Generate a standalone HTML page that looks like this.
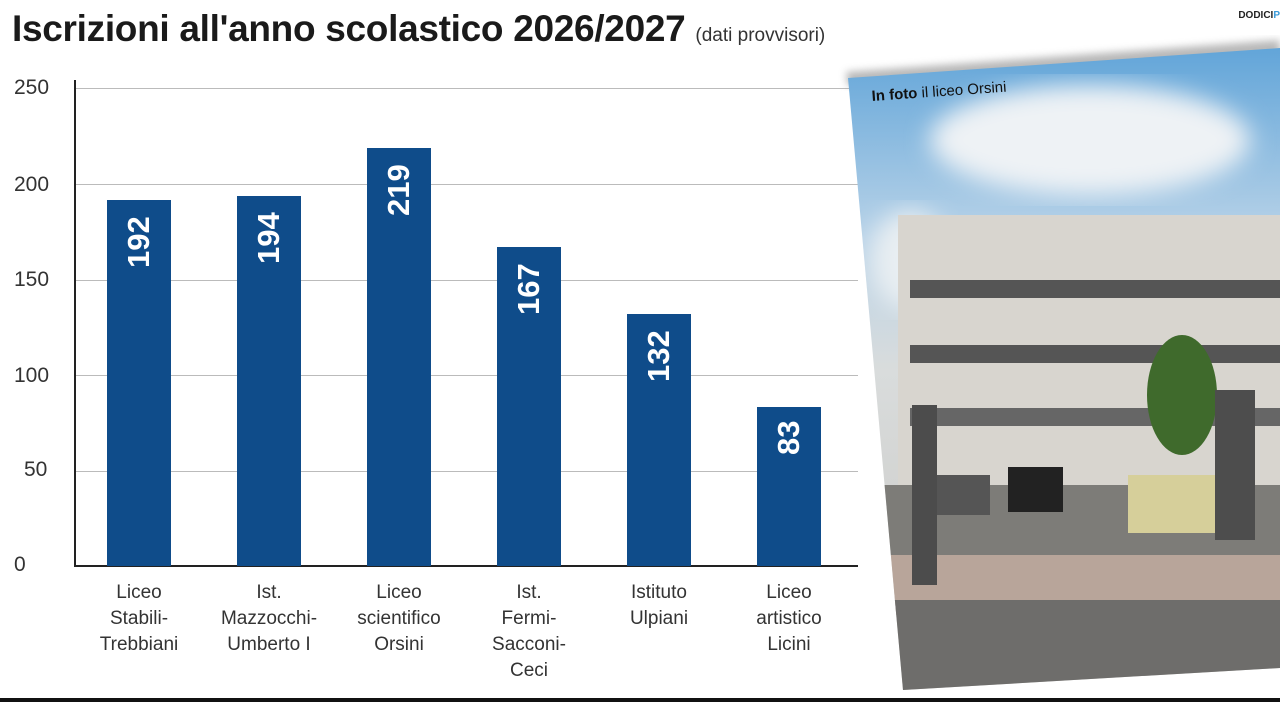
<!DOCTYPE html>
<html><head><meta charset="utf-8"><style>
html,body{margin:0;padding:0;background:#fff;}
body{width:1280px;height:702px;position:relative;overflow:hidden;font-family:"Liberation Sans",sans-serif;}
.t{position:absolute;left:12px;top:8px;font-size:37px;font-weight:bold;color:#1a1a1a;letter-spacing:-0.3px;white-space:nowrap;}
.t span{font-size:19px;font-weight:normal;letter-spacing:0;color:#333;}
.yl{position:absolute;left:14px;font-size:21px;color:#333;}
.g{position:absolute;left:76px;width:782px;height:1px;background:#bbb;}
.bar{position:absolute;width:64px;background:#0f4c8a;}
.bar b{position:absolute;left:0;width:64px;color:#fff;font-size:31px;writing-mode:vertical-rl;transform:rotate(180deg);display:flex;align-items:center;justify-content:flex-end;}
.xl{position:absolute;top:580px;width:140px;text-align:center;font-size:19px;line-height:26px;color:#333;}
</style></head><body>
<div class="t">Iscrizioni all'anno scolastico 2026/2027 <span>(dati provvisori)</span></div>
<div style="position:absolute;right:0;top:10px;font-size:10px;font-weight:bold;color:#222">DODICI<span style="color:#3a9ad9">P</span></div>
<div class="yl" style="top:76px">250</div>
<div class="yl" style="top:173px">200</div>
<div class="yl" style="top:268px">150</div>
<div class="yl" style="top:364px">100</div>
<div class="yl" style="top:458px;left:24px">50</div>
<div class="yl" style="top:553px;left:14px">0</div>
<div class="g" style="top:88px"></div>
<div class="g" style="top:184px"></div>
<div class="g" style="top:280px"></div>
<div class="g" style="top:375px"></div>
<div class="g" style="top:471px"></div>
<div style="position:absolute;left:74px;top:80px;width:2px;height:487px;background:#222"></div>
<div style="position:absolute;left:74px;top:565px;width:784px;height:2px;background:#222"></div>
<div class="bar" style="left:107px;top:200px;height:366px"><b style="height:80px;top:16px">192</b></div>
<div class="bar" style="left:237px;top:196px;height:370px"><b style="height:80px;top:16px">194</b></div>
<div class="bar" style="left:367px;top:148px;height:418px"><b style="height:80px;top:16px">219</b></div>
<div class="bar" style="left:497px;top:247px;height:319px"><b style="height:80px;top:16px">167</b></div>
<div class="bar" style="left:627px;top:314px;height:252px"><b style="height:80px;top:16px">132</b></div>
<div class="bar" style="left:757px;top:407px;height:159px"><b style="height:60px;top:14px">83</b></div>
<div class="xl" style="left:69px">Liceo<br>Stabili-<br>Trebbiani</div>
<div class="xl" style="left:199px">Ist.<br>Mazzocchi-<br>Umberto I</div>
<div class="xl" style="left:329px">Liceo<br>scientifico<br>Orsini</div>
<div class="xl" style="left:459px">Ist.<br>Fermi-<br>Sacconi-<br>Ceci</div>
<div class="xl" style="left:589px">Istituto<br>Ulpiani</div>
<div class="xl" style="left:719px">Liceo<br>artistico<br>Licini</div>
<svg style="position:absolute;left:0;top:0" width="1280" height="702">
<defs>
<linearGradient id="sky" x1="0" y1="0" x2="0" y2="1"><stop offset="0" stop-color="#5ea3d8"/><stop offset="0.3" stop-color="#b9d3e8"/><stop offset="0.5" stop-color="#d9dcdc"/><stop offset="1" stop-color="#c8c6c2"/></linearGradient>
<clipPath id="cp"><polygon points="848,78 1280,48 1280,668 903,690"/></clipPath>
<filter id="sh"><feGaussianBlur stdDeviation="4"/></filter>
<filter id="bl"><feGaussianBlur stdDeviation="12"/></filter>
</defs>
<polygon points="846,72 1280,40 1280,60 848,86" fill="#888" filter="url(#sh)" opacity="0.6"/>
<g clip-path="url(#cp)">
<rect x="840" y="40" width="440" height="660" fill="url(#sky)"/>
<ellipse cx="1090" cy="140" rx="160" ry="55" fill="#eef2f5" filter="url(#bl)"/>
<ellipse cx="910" cy="260" rx="40" ry="50" fill="#e8eef2" filter="url(#bl)"/>
<rect x="898" y="215" width="382" height="270" fill="#d8d5cf"/>
<rect x="910" y="280" width="370" height="18" fill="#555"/>
<rect x="910" y="345" width="370" height="18" fill="#555"/>
<rect x="910" y="408" width="370" height="18" fill="#666"/>
<rect x="880" y="485" width="400" height="70" fill="#7d7c78"/>
<rect x="880" y="555" width="400" height="60" fill="#b8a59a"/>
<rect x="880" y="600" width="400" height="100" fill="#6e6d6b"/>
<ellipse cx="1182" cy="395" rx="35" ry="60" fill="#3f6a2c"/>
<rect x="935" y="475" width="55" height="40" fill="#555"/>
<rect x="1008" y="467" width="55" height="45" fill="#222"/>
<rect x="1128" y="475" width="90" height="58" fill="#d6cf9a"/>
<rect x="912" y="405" width="25" height="180" fill="#4c4c4c"/>
<rect x="1215" y="390" width="40" height="150" fill="#4d4d4d"/>
</g>
<text x="872" y="101" font-family="Liberation Sans" font-size="15" fill="#111" transform="rotate(-4 872 101)"><tspan font-weight="bold">In foto</tspan> il liceo Orsini</text>
<rect x="0" y="698" width="1280" height="4" fill="#111"/>
</svg>
</body></html>
